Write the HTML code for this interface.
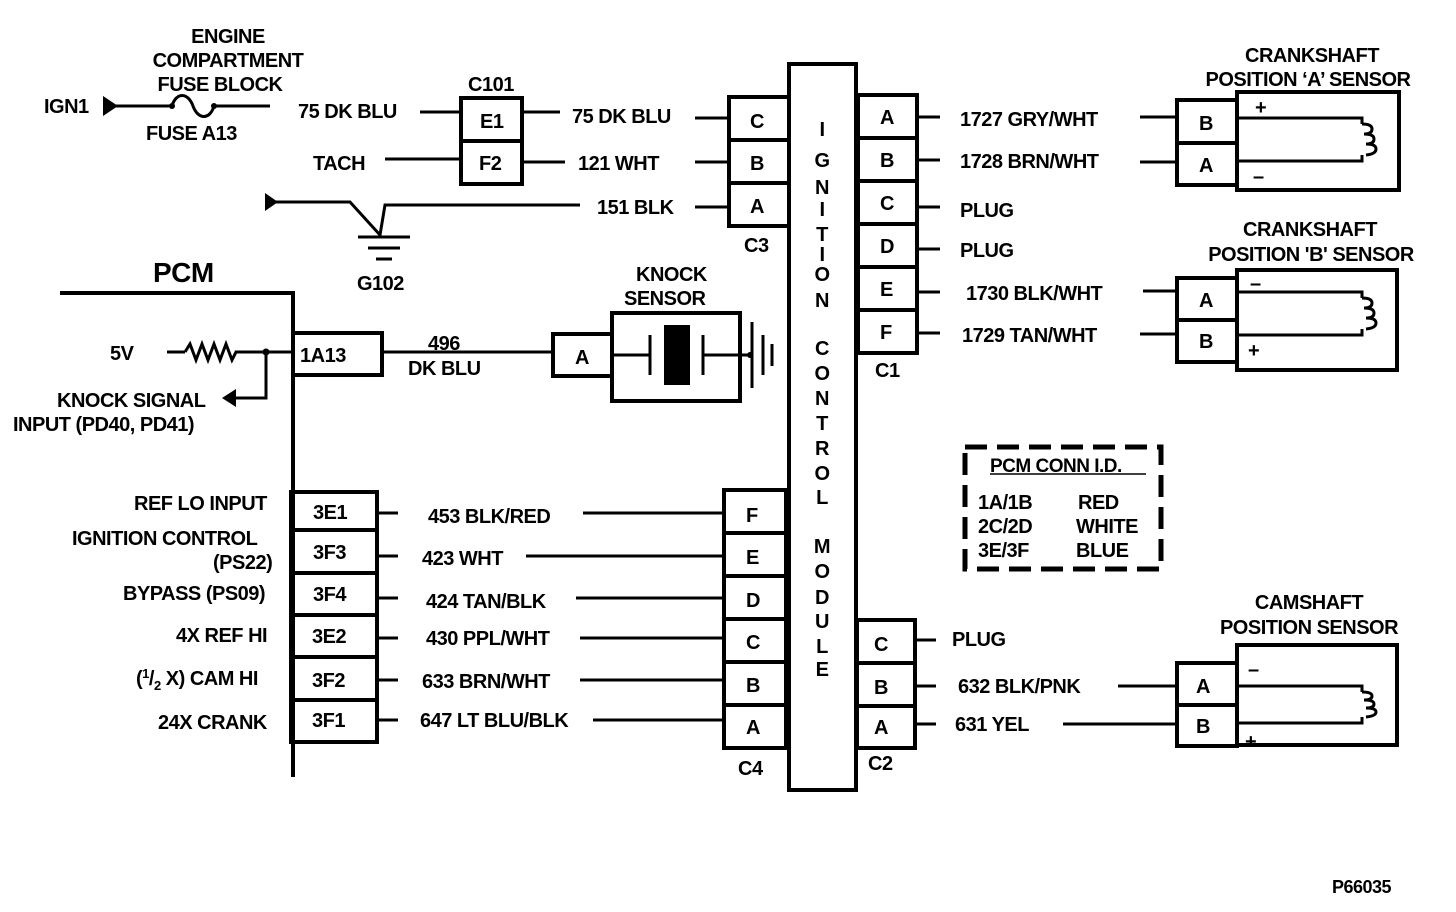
<!DOCTYPE html>
<html><head><meta charset="utf-8"><style>
body{margin:0;background:#fff}
svg{display:block}
text{font-family:"Liberation Sans",Arial,sans-serif;font-weight:bold;fill:#000;font-size:20px}
.t{font-weight:normal;letter-spacing:-0.5px}
</style></head><body>
<svg width="1456" height="912" viewBox="0 0 1456 912" xmlns="http://www.w3.org/2000/svg">
<g fill="none" stroke="#000" stroke-width="4" stroke-linecap="square">
<rect x="789" y="64" width="67" height="726"/>
<rect x="729" y="97" width="60" height="129"/><line x1="729" y1="140" x2="789" y2="140"/><line x1="729" y1="183" x2="789" y2="183"/>
<rect x="858" y="95" width="59" height="258"/>
<line x1="858" y1="138" x2="917" y2="138"/><line x1="858" y1="181" x2="917" y2="181"/><line x1="858" y1="224" x2="917" y2="224"/><line x1="858" y1="267" x2="917" y2="267"/><line x1="858" y1="310" x2="917" y2="310"/>
<rect x="724" y="490" width="62" height="258"/>
<line x1="724" y1="533" x2="786" y2="533"/><line x1="724" y1="576" x2="786" y2="576"/><line x1="724" y1="619" x2="786" y2="619"/><line x1="724" y1="662" x2="786" y2="662"/><line x1="724" y1="705" x2="786" y2="705"/>
<rect x="857" y="620" width="58" height="128"/><line x1="857" y1="663" x2="915" y2="663"/><line x1="857" y1="706" x2="915" y2="706"/>
<rect x="461" y="98" width="61" height="86"/><line x1="461" y1="141" x2="522" y2="141"/>
<polyline points="62,293 293,293 293,775"/>
<rect x="293" y="333" width="89" height="42"/>
<rect x="291" y="492" width="86" height="250"/>
<line x1="291" y1="530" x2="377" y2="530"/><line x1="291" y1="573" x2="377" y2="573"/><line x1="291" y1="615" x2="377" y2="615"/><line x1="291" y1="657" x2="377" y2="657"/><line x1="291" y1="700" x2="377" y2="700"/>
<rect x="553" y="334" width="59" height="42"/>
<rect x="612" y="313" width="128" height="88"/>
<rect x="1177" y="100" width="60" height="85"/><line x1="1177" y1="143" x2="1237" y2="143"/>
<rect x="1237" y="92" width="162" height="98"/>
<rect x="1177" y="278" width="60" height="84"/><line x1="1177" y1="320" x2="1237" y2="320"/>
<rect x="1237" y="270" width="160" height="100"/>
<rect x="1177" y="663" width="60" height="83"/><line x1="1177" y1="705" x2="1237" y2="705"/>
<rect x="1237" y="645" width="160" height="100"/>
</g>
<g fill="none" stroke="#000" stroke-width="3">
<line x1="112" y1="106" x2="172" y2="106"/>
<path d="M172,106 C176,92 188,92 193,106 C198,120 210,120 214,106"/>
<line x1="214" y1="106" x2="270" y2="106"/>
<line x1="420" y1="112" x2="461" y2="112"/><line x1="522" y1="112" x2="560" y2="112"/><line x1="695" y1="118" x2="729" y2="118"/>
<line x1="385" y1="159" x2="461" y2="159"/><line x1="522" y1="162" x2="565" y2="162"/><line x1="695" y1="162" x2="729" y2="162"/>
<polyline points="275,202 350,202 380,235 385,205 580,205"/>
<line x1="695" y1="207" x2="729" y2="207"/>
<line x1="358" y1="237" x2="410" y2="237"/><line x1="368" y1="248" x2="400" y2="248"/><line x1="376" y1="259" x2="392" y2="259"/>
<line x1="917" y1="117" x2="940" y2="117"/><line x1="917" y1="160" x2="940" y2="160"/><line x1="917" y1="207" x2="940" y2="207"/><line x1="917" y1="249" x2="940" y2="249"/><line x1="917" y1="292" x2="940" y2="292"/><line x1="917" y1="333" x2="940" y2="333"/>
<line x1="1140" y1="117" x2="1177" y2="117"/><line x1="1140" y1="162" x2="1177" y2="162"/>
<line x1="1143" y1="291" x2="1177" y2="291"/><line x1="1140" y1="334" x2="1177" y2="334"/>
<line x1="915" y1="640" x2="936" y2="640"/><line x1="915" y1="686" x2="936" y2="686"/><line x1="915" y1="724" x2="936" y2="724"/>
<line x1="1118" y1="686" x2="1177" y2="686"/><line x1="1063" y1="724" x2="1177" y2="724"/>
<line x1="167" y1="352" x2="185" y2="352"/>
<polyline points="185,352 190,344 196,360 202,344 208,360 214,344 220,360 226,344 232,360 236,352 293,352"/>
<polyline points="266,352 266,398 232,398"/>
<line x1="382" y1="352" x2="553" y2="352"/>
<line x1="377" y1="513" x2="398" y2="513"/><line x1="583" y1="513" x2="724" y2="513"/>
<line x1="377" y1="556" x2="398" y2="556"/><line x1="526" y1="556" x2="724" y2="556"/>
<line x1="377" y1="598" x2="398" y2="598"/><line x1="576" y1="598" x2="724" y2="598"/>
<line x1="377" y1="638" x2="398" y2="638"/><line x1="580" y1="638" x2="724" y2="638"/>
<line x1="377" y1="680" x2="398" y2="680"/><line x1="580" y1="680" x2="724" y2="680"/>
<line x1="377" y1="720" x2="398" y2="720"/><line x1="593" y1="720" x2="724" y2="720"/>
<line x1="612" y1="355" x2="650" y2="355"/><line x1="650" y1="335" x2="650" y2="375"/>
<line x1="703" y1="335" x2="703" y2="375"/><line x1="703" y1="355" x2="750" y2="355"/>
<line x1="740" y1="335" x2="740" y2="375"/>
<line x1="752" y1="322" x2="752" y2="388"/><line x1="763" y1="335" x2="763" y2="375"/><line x1="772" y1="344" x2="772" y2="366"/>
<polyline points="1237,118 1362,118 1362,124"/><polyline points="1237,161 1362,161 1362,155"/>
<path d="M1362,124 q10,0 10,5 q0,5 -8,5 q10,0 10,5 q0,5 -8,5 q10,0 10,5 q0,5 -10,6" />
<polyline points="1237,292 1362,292 1362,298"/><polyline points="1237,335 1362,335 1362,329"/>
<path d="M1362,298 q10,0 10,5 q0,5 -8,5 q10,0 10,5 q0,5 -8,5 q10,0 10,5 q0,5 -10,6" />
<polyline points="1237,686 1362,686 1362,692"/><polyline points="1237,723 1362,723 1362,717"/>
<path d="M1362,692 q10,0 10,4 q0,4 -8,4 q10,0 10,4 q0,4 -8,4 q10,0 10,4 q0,4 -10,5" />
<rect x="965" y="447" width="196" height="122" stroke-width="5" stroke-dasharray="22,10"/>
<line x1="990" y1="474" x2="1146" y2="474" stroke-width="1.5"/>
</g>
<rect x="664" y="325" width="26" height="60" fill="#000"/>
<polygon points="103,96 103,116 118,106" fill="#000"/>
<polygon points="265,193 265,211 278,202" fill="#000"/>
<polygon points="236,389 236,407 222,398" fill="#000"/>
<circle cx="266" cy="352" r="3.5" fill="#000"/><circle cx="750" cy="355" r="3" fill="#000"/>
<circle cx="172" cy="106" r="3" fill="#000"/><circle cx="214" cy="106" r="3" fill="#000"/>
<g class="t">
<text x="228" y="43" text-anchor="middle">ENGINE</text>
<text x="228" y="67" text-anchor="middle">COMPARTMENT</text>
<text x="220" y="91" text-anchor="middle">FUSE BLOCK</text>
<text x="44" y="113">IGN1</text>
<text x="146" y="140">FUSE A13</text>
<text x="298" y="118">75 DK BLU</text>
<text x="313" y="170">TACH</text>
<text x="468" y="91">C101</text>
<text x="480" y="128">E1</text><text x="479" y="170">F2</text>
<text x="572" y="123">75 DK BLU</text>
<text x="578" y="170">121 WHT</text>
<text x="597" y="214">151 BLK</text>
<text x="750" y="128">C</text><text x="750" y="170">B</text><text x="750" y="213">A</text>
<text x="744" y="252">C3</text>
<text x="357" y="290">G102</text>
<text x="153" y="282" style="font-size:28px;font-weight:bold">PCM</text>
<text x="110" y="360">5V</text>
<text x="300" y="362">1A13</text>
<text x="428" y="350">496</text><text x="408" y="375">DK BLU</text>
<text x="575" y="364">A</text>
<text x="636" y="281">KNOCK</text><text x="624" y="305">SENSOR</text>
<text x="57" y="407">KNOCK SIGNAL</text>
<text x="13" y="431">INPUT (PD40, PD41)</text>
<text x="880" y="124">A</text><text x="880" y="167">B</text><text x="880" y="210">C</text><text x="880" y="253">D</text><text x="880" y="296">E</text><text x="880" y="339">F</text>
<text x="875" y="377">C1</text>
<text x="960" y="126">1727 GRY/WHT</text>
<text x="960" y="168">1728 BRN/WHT</text>
<text x="960" y="217">PLUG</text>
<text x="960" y="257">PLUG</text>
<text x="966" y="300">1730 BLK/WHT</text>
<text x="962" y="342">1729 TAN/WHT</text>
<text x="1312" y="62" text-anchor="middle">CRANKSHAFT</text>
<text x="1308" y="86" text-anchor="middle">POSITION ‘A’ SENSOR</text>
<text x="1310" y="236" text-anchor="middle">CRANKSHAFT</text>
<text x="1311" y="261" text-anchor="middle">POSITION 'B' SENSOR</text>
<text x="1199" y="130">B</text><text x="1199" y="172">A</text>
<text x="1199" y="307">A</text><text x="1199" y="348">B</text>
<text x="1255" y="114">+</text><text x="1253" y="183">–</text>
<text x="1250" y="290">–</text><text x="1248" y="357">+</text>
<text x="1309" y="609" text-anchor="middle">CAMSHAFT</text>
<text x="1309" y="634" text-anchor="middle">POSITION SENSOR</text>
<text x="1196" y="693">A</text><text x="1196" y="733">B</text>
<text x="1248" y="676">–</text><text x="1245" y="748">+</text>
<text x="990" y="472" style="font-size:19px">PCM CONN I.D.</text>
<text x="978" y="509">1A/1B</text><text x="1078" y="509">RED</text>
<text x="978" y="533">2C/2D</text><text x="1076" y="533">WHITE</text>
<text x="978" y="557">3E/3F</text><text x="1076" y="557">BLUE</text>
<text x="134" y="510">REF LO INPUT</text>
<text x="72" y="545">IGNITION CONTROL</text>
<text x="213" y="569">(PS22)</text>
<text x="123" y="600">BYPASS (PS09)</text>
<text x="176" y="642">4X REF HI</text>
<text x="136" y="685">(<tspan font-size="13" dy="-7">1</tspan><tspan dy="7">/</tspan><tspan font-size="13" dy="5">2</tspan><tspan dy="-5"> X) CAM HI</tspan></text>
<text x="158" y="729">24X CRANK</text>
<text x="313" y="519">3E1</text><text x="313" y="559">3F3</text><text x="313" y="601">3F4</text><text x="312" y="643">3E2</text><text x="312" y="687">3F2</text><text x="312" y="727">3F1</text>
<text x="428" y="523">453 BLK/RED</text>
<text x="422" y="565">423 WHT</text>
<text x="426" y="608">424 TAN/BLK</text>
<text x="426" y="645">430 PPL/WHT</text>
<text x="422" y="688">633 BRN/WHT</text>
<text x="420" y="727">647 LT BLU/BLK</text>
<text x="746" y="522">F</text><text x="746" y="564">E</text><text x="746" y="607">D</text><text x="746" y="649">C</text><text x="746" y="692">B</text><text x="746" y="734">A</text>
<text x="738" y="775">C4</text>
<text x="874" y="651">C</text><text x="874" y="694">B</text><text x="874" y="734">A</text>
<text x="868" y="770">C2</text>
<text x="952" y="646">PLUG</text>
<text x="958" y="693">632 BLK/PNK</text>
<text x="955" y="731">631 YEL</text>
<text x="1332" y="893" style="font-size:18px">P66035</text>
</g>
<g class="t" text-anchor="middle">
<text x="822" y="136">I</text><text x="822" y="167">G</text><text x="822" y="194">N</text><text x="822" y="216">I</text><text x="822" y="241">T</text><text x="822" y="261">I</text><text x="822" y="281">O</text><text x="822" y="307">N</text>
<text x="822" y="355">C</text><text x="822" y="380">O</text><text x="822" y="405">N</text><text x="822" y="430">T</text><text x="822" y="455">R</text><text x="822" y="480">O</text><text x="822" y="504">L</text>
<text x="822" y="553">M</text><text x="822" y="578">O</text><text x="822" y="604">D</text><text x="822" y="628">U</text><text x="822" y="653">L</text><text x="822" y="676">E</text>
</g>
</svg>
</body></html>
